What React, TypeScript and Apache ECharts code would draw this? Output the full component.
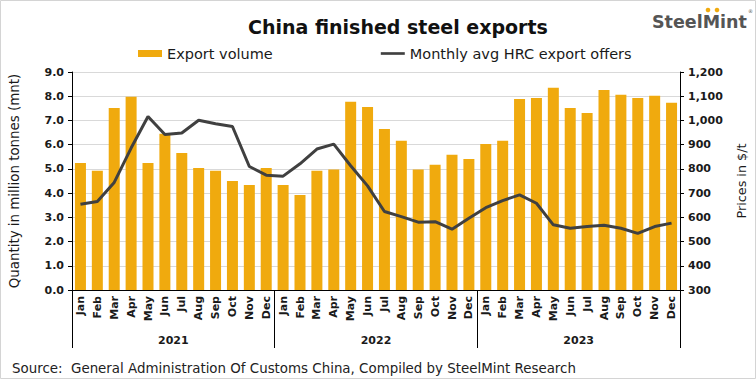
import React, { useEffect, useRef } from "react";
import * as echarts from "echarts";

const monthNames = ["Jan", "Feb", "Mar", "Apr", "May", "Jun", "Jul", "Aug", "Sep", "Oct", "Nov", "Dec"];
const years = ["2021", "2022", "2023"];

const exportVolume = [
  5.24, 4.92, 7.51, 7.98, 5.24, 6.45, 5.66, 5.04, 4.92, 4.5, 4.34, 5.04,
  4.34, 3.92, 4.92, 4.97, 7.77, 7.56, 6.65, 6.16, 4.97, 5.17, 5.58, 5.41,
  6.03, 6.16, 7.89, 7.93, 8.35, 7.51, 7.31, 8.26, 8.06, 7.93, 8.02, 7.73,
];

const hrcOffers = [
  654, 665, 744, 886, 1016, 942, 948, 1001, 986, 975, 810, 774,
  770, 821, 882, 902, 813, 730, 624, 603, 580, 582, 551, 596,
  640, 669, 693, 658, 569, 555, 562, 567, 555, 534, 562, 576,
];

const FONT = "DejaVu Sans";
const TXT = "#1a1a1a";

export default function App() {
  const ref = useRef<HTMLDivElement>(null);
  useEffect(() => {
    if (!ref.current) return;
    const chart = echarts.init(ref.current, null, { renderer: "svg" });
    const categories: string[] = [];
    years.forEach(() => monthNames.forEach((m) => categories.push(m)));
    chart.setOption({
      animation: false,
      backgroundColor: "#ffffff",
      title: {
        text: "China finished steel exports",
        left: 243,
        top: 12,
        textStyle: { fontFamily: FONT, fontSize: 19, fontWeight: "bold", color: "#111" },
      },
      legend: {
        top: 41,
        left: 133,
        itemGap: 108,
        itemWidth: 24,
        itemHeight: 7,
        textStyle: { fontFamily: FONT, fontSize: 14.5, color: TXT },
        data: [
          { name: "Export volume", icon: "rect" },
          { name: "Monthly avg HRC export offers", icon: "path://M0 0H27V3H0Z" },
        ],
      },
      grid: { left: 68, right: 64, top: 72, bottom: 89, containLabel: false },
      xAxis: [
        {
          type: "category",
          data: categories,
          axisLine: { lineStyle: { color: "#000", width: 1 } },
          axisTick: { alignWithLabel: true, length: 4, interval: 0, lineStyle: { color: "#000" } },
          axisLabel: {
            rotate: 90,
            interval: 0,
            margin: 6,
            fontFamily: FONT,
            fontSize: 11,
            fontWeight: "bold",
            color: TXT,
          },
          splitLine: { show: false },
        },
        {
          type: "category",
          data: years,
          position: "bottom",
          axisLine: { show: false },
          axisTick: { show: true, length: 58, interval: 0, lineStyle: { color: "#000" } },
          axisLabel: {
            interval: 0,
            margin: 45,
            fontFamily: FONT,
            fontSize: 11,
            fontWeight: "bold",
            color: TXT,
          },
          splitLine: { show: false },
        },
      ],
      yAxis: [
        {
          type: "value",
          min: 0,
          max: 9,
          interval: 1,
          name: "Quantity in million tonnes (mnt)",
          nameLocation: "middle",
          nameRotate: 90,
          nameGap: 51,
          nameTextStyle: { fontFamily: FONT, fontSize: 13.4, color: TXT },
          axisLine: { show: true, lineStyle: { color: "#000" } },
          axisTick: { show: true, length: 4, lineStyle: { color: "#000" } },
          axisLabel: {
            fontFamily: FONT,
            fontSize: 11,
            fontWeight: "bold",
            color: TXT,
            margin: 8,
            formatter: (v: number) => v.toFixed(1),
          },
          splitLine: { show: true, lineStyle: { color: "#d9d9d9", width: 1 } },
        },
        {
          type: "value",
          min: 300,
          max: 1200,
          interval: 100,
          position: "right",
          name: "Prices in $/t",
          nameLocation: "middle",
          nameRotate: 90,
          nameGap: 55,
          nameTextStyle: { fontFamily: FONT, fontSize: 12.8, color: TXT },
          axisLine: { show: true, lineStyle: { color: "#000" } },
          axisTick: { show: true, length: 4, lineStyle: { color: "#000" } },
          axisLabel: {
            fontFamily: FONT,
            fontSize: 11,
            fontWeight: "bold",
            color: TXT,
            margin: 8,
            formatter: (v: number) => v.toLocaleString("en-US"),
          },
          splitLine: { show: false },
        },
      ],
      series: [
        {
          name: "Export volume",
          type: "bar",
          xAxisIndex: 0,
          yAxisIndex: 0,
          data: exportVolume,
          barWidth: 11,
          itemStyle: { color: "#F0AA0E" },
        },
        {
          name: "Monthly avg HRC export offers",
          type: "line",
          xAxisIndex: 0,
          yAxisIndex: 1,
          data: hrcOffers,
          symbol: "none",
          lineStyle: { color: "#404040", width: 3 },
          itemStyle: { color: "#404040" },
        },
      ],
      graphic: [
        {
          type: "rect",
          shape: { x: 0.5, y: 0.5, width: 755, height: 378 },
          style: { fill: "none", stroke: "#d4d4d4", lineWidth: 1 },
          silent: true,
        },
        {
          type: "text",
          x: 652,
          y: 22,
          style: {
            text: "SteelMint",
            fontFamily: FONT,
            fontSize: 17.5,
            fontWeight: "bold",
            fill: "#555555",
            textVerticalAlign: "middle",
          },
        },
        {
          type: "text",
          x: 748,
          y: 11,
          style: { text: "®", fontFamily: FONT, fontSize: 5, fill: "#555555", textVerticalAlign: "middle" },
        },
        { type: "circle", shape: { cx: 708, cy: 10, r: 2.3 }, style: { fill: "#F0AA0E" } },
        { type: "circle", shape: { cx: 717, cy: 10, r: 2.3 }, style: { fill: "#F0AA0E" } },
        {
          type: "text",
          x: 12,
          y: 368,
          style: {
            text: "Source:  General Administration Of Customs China, Compiled by SteelMint Research",
            fontFamily: FONT,
            fontSize: 13.4,
            fill: "#222",
            textVerticalAlign: "middle",
          },
        },
      ],
    });
    return () => chart.dispose();
  }, []);
  return (
    <div
      ref={ref}
      style={{ position: "fixed", left: 0, top: 0, width: 756, height: 379, background: "#fff" }}
    />
  );
}
